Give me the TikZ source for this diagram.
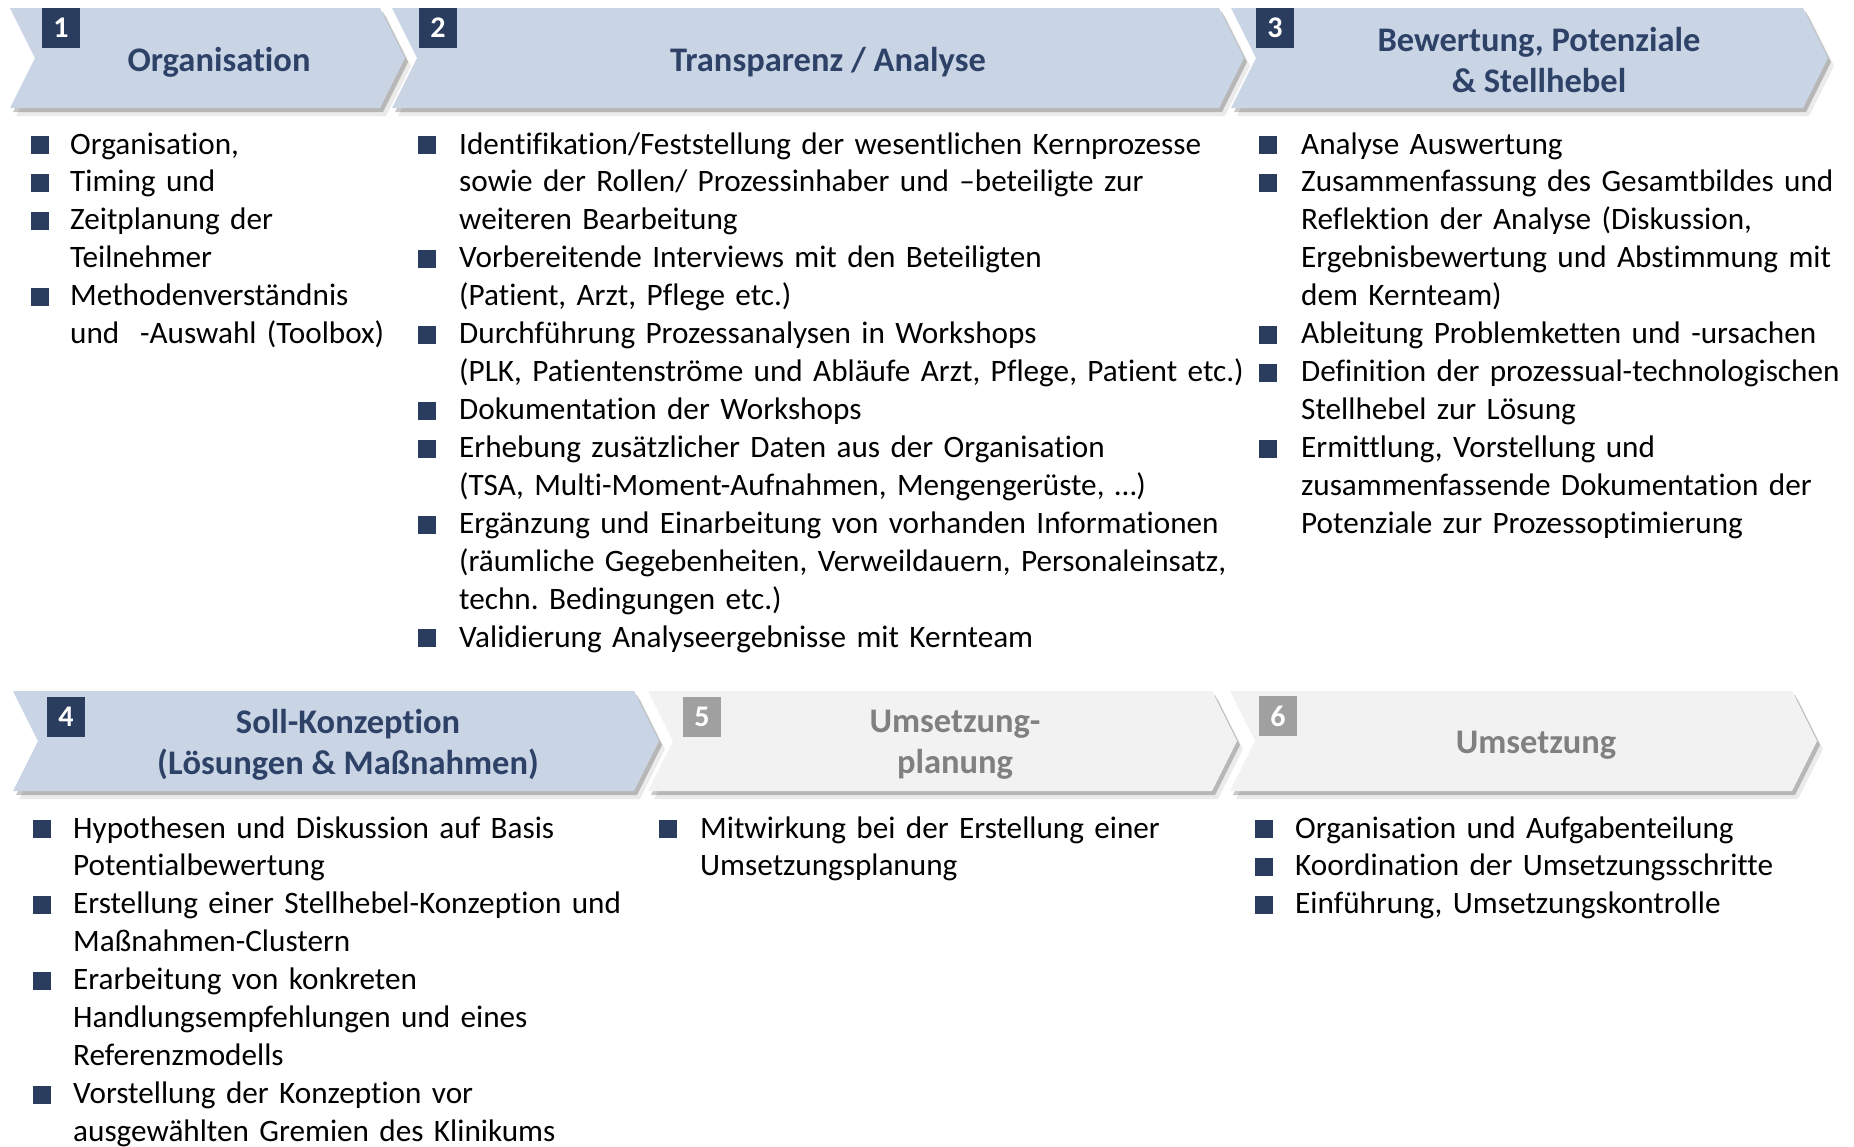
\documentclass[tikz,border=0pt]{standalone}
\usepackage{fontspec}
\setmainfont{Carlito}[Ligatures={NoCommon}]
\frenchspacing
\usetikzlibrary{calc}
\definecolor{chevblue}{RGB}{201,212,229}
\definecolor{chevgray}{RGB}{242,242,242}
\definecolor{navy}{RGB}{42,61,95}
\definecolor{titlenavy}{RGB}{46,66,104}
\definecolor{boxgray}{RGB}{160,160,160}
\definecolor{titlegray}{RGB}{128,128,128}
\newcommand\chevshape[5]{(#1,#4) -- (#3,#4) -- ({#3+#2},{(#4+#5)/2}) -- (#3,#5) -- (#1,#5) -- ({#1+#2},{(#4+#5)/2}) -- cycle}
\newcommand\mychev[6]{%
  \fill[black,opacity=.08,shift={(6,8)}] \chevshape{#1}{#2}{#3}{#4}{#5};
  \fill[black,opacity=.22,shift={(3,4)}] \chevshape{#1}{#2}{#3}{#4}{#5};
  \fill[#6] \chevshape{#1}{#2}{#3}{#4}{#5};
}
\newcommand\bitem[5]{%
  \node[bul] (#1b) at (#2,#4-9) {};
  \node[itemtxt] (#1) at (#3,#4) {#5};
}
\tikzset{
  numbox/.style={minimum width=38pt, minimum height=40pt, inner sep=0pt, text=white,
    font=\bfseries\fontsize{30}{34}\selectfont},
  titletxt/.style={align=center, inner sep=0pt, font=\bfseries\fontsize{34.5}{41}\selectfont},
  bul/.style={fill=navy, minimum size=18pt, inner sep=0pt},
  itemtxt/.style={anchor=base west, inner sep=0pt, text width=900pt, align=left,
    font=\fontsize{31.2}{37.95}\selectfont},
}
\begin{document}
\begin{tikzpicture}[x=1pt,y=-1pt]
\fill[white] (0,0) rectangle (1854,1146);
\useasboundingbox (0,0) rectangle (1854,1146);
% top row chevrons
\mychev{10}{25}{380}{8}{108}{chevblue}
\mychev{392}{25}{1219}{8}{108}{chevblue}
\mychev{1231}{25}{1803}{8}{108}{chevblue}
% bottom row chevrons
\mychev{13}{25}{634}{691}{791}{chevblue}
\mychev{648}{25}{1212}{691}{791}{chevgray}
\mychev{1230}{25}{1792}{691}{791}{chevgray}
% number boxes
\node[numbox, fill=navy] (n1) at (61,28) {1};
\node[numbox, fill=navy] (n2) at (438,28) {2};
\node[numbox, fill=navy] (n3) at (1275,28) {3};
\node[numbox, fill=navy] (n4) at (66,717) {4};
\node[numbox, fill=boxgray] (n5) at (702,717) {5};
\node[numbox, fill=boxgray] (n6) at (1278,716) {6};
% titles
\node[titletxt, text=titlenavy] (t1) at (219,62.5) {Organisation};
\node[titletxt, text=titlenavy] (t2) at (828,62.5) {Transparenz / Analyse};
\node[titletxt, text=titlenavy] (t3) at (1539,60.5) {Bewertung, Potenziale\\\& Stellhebel};
\node[titletxt, text=titlenavy] (t4) at (348,745) {Soll-Konzeption\\(Lösungen \& Maßnahmen)};
\node[titletxt, text=titlegray] (t5) at (955,745) {Umsetzung-\\planung};
\node[titletxt, text=titlegray] (t6) at (1536,745.5) {Umsetzung};
% column 1
\bitem{a1}{39.5}{70}{154}{Organisation,}
\bitem{a2}{39.5}{70}{154+37.95}{Timing und}
\bitem{a3}{39.5}{70}{154+2*37.95}{Zeitplanung der\\Teilnehmer}
\bitem{a4}{39.5}{70}{154+4*37.95}{Methodenverständnis\\und\ \ -Auswahl (Toolbox)}
% column 2
\bitem{b1}{427}{459}{154}{Identifikation/Feststellung der wesentlichen Kernprozesse\\sowie der Rollen/ Prozessinhaber und –beteiligte zur\\weiteren Bearbeitung}
\bitem{b2}{427}{459}{154+3*37.95}{Vorbereitende Interviews mit den Beteiligten\\(Patient, Arzt, Pflege etc.)}
\bitem{b3}{427}{459}{154+5*37.95}{Durchführung Prozessanalysen in Workshops\\(PLK, Patientenströme und Abläufe Arzt, Pflege, Patient etc.)}
\bitem{b4}{427}{459}{154+7*37.95}{Dokumentation der Workshops}
\bitem{b5}{427}{459}{154+8*37.95}{Erhebung zusätzlicher Daten aus der Organisation\\(TSA, Multi-Moment-Aufnahmen, Mengengerüste, …)}
\bitem{b6}{427}{459}{154+10*37.95}{Ergänzung und Einarbeitung von vorhanden Informationen\\(räumliche Gegebenheiten, Verweildauern, Personaleinsatz,\\techn. Bedingungen etc.)}
\bitem{b7}{427}{459}{154+13*37.95}{Validierung Analyseergebnisse mit Kernteam}
% column 3
\bitem{c1}{1268}{1301}{154}{Analyse Auswertung}
\bitem{c2}{1268}{1301}{154+37.95}{Zusammenfassung des Gesamtbildes und\\Reflektion der Analyse (Diskussion,\\Ergebnisbewertung und Abstimmung mit\\dem Kernteam)}
\bitem{c3}{1268}{1301}{154+5*37.95}{Ableitung Problemketten und -ursachen}
\bitem{c4}{1268}{1301}{154+6*37.95}{Definition der prozessual-technologischen\\Stellhebel zur Lösung}
\bitem{c5}{1268}{1301}{154+8*37.95}{Ermittlung, Vorstellung und\\zusammenfassende Dokumentation der\\Potenziale zur Prozessoptimierung}
% column 4
\bitem{d1}{42}{73}{838}{Hypothesen und Diskussion auf Basis\\Potentialbewertung}
\bitem{d2}{42}{73}{838+2*37.95}{Erstellung einer Stellhebel-Konzeption und\\Maßnahmen-Clustern}
\bitem{d3}{42}{73}{838+4*37.95}{Erarbeitung von konkreten\\Handlungsempfehlungen und eines\\Referenzmodells}
\bitem{d4}{42}{73}{838+7*37.95}{Vorstellung der Konzeption vor\\ausgewählten Gremien des Klinikums}
% column 5
\bitem{e1}{667.5}{700}{838}{Mitwirkung bei der Erstellung einer\\Umsetzungsplanung}
% column 6
\bitem{f1}{1263.5}{1295}{838}{Organisation und Aufgabenteilung}
\bitem{f2}{1263.5}{1295}{838+37.95}{Koordination der Umsetzungsschritte}
\bitem{f3}{1263.5}{1295}{838+2*37.95}{Einführung, Umsetzungskontrolle}
\end{tikzpicture}
\end{document}
